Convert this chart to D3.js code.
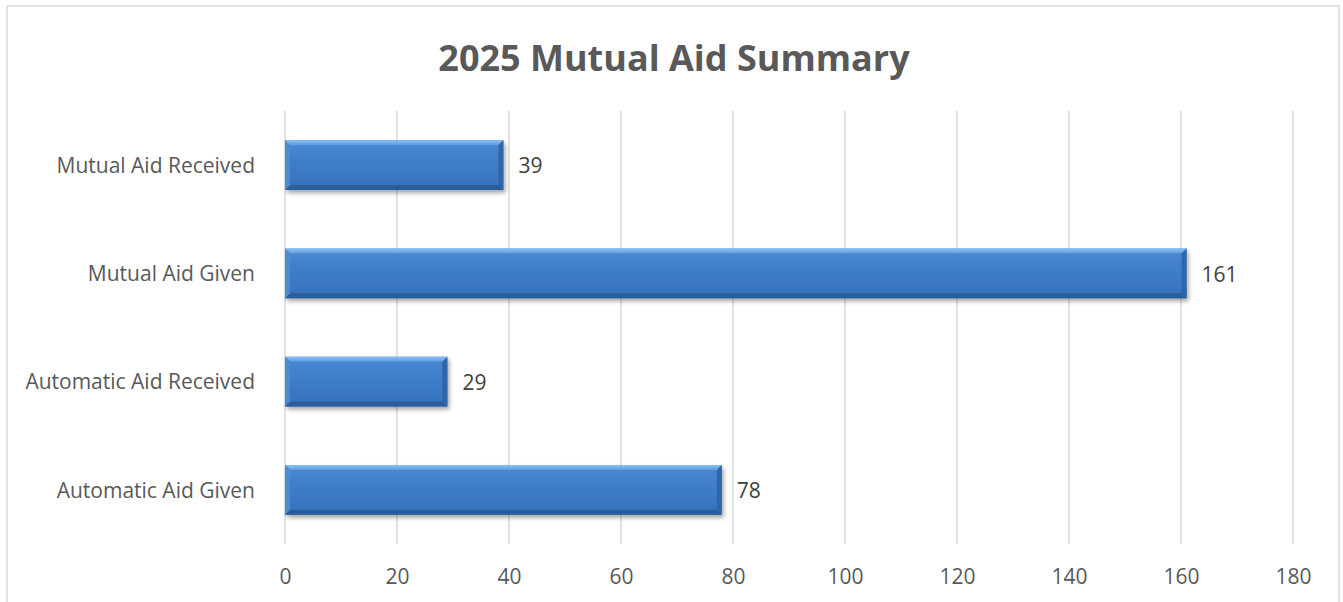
<!DOCTYPE html>
<html>
<head>
<meta charset="utf-8">
<script src="https://cdn.jsdelivr.net/npm/d3@7"></script>
<style>
  html, body { margin: 0; padding: 0; background: #fff; }
  svg { display: block; }
  text { font-family: "Open Sans", "Liberation Sans", sans-serif; }
</style>
</head>
<body>
<svg id="chart" width="1343" height="602"></svg>
<script>
// Chart data
const title = "2025 Mutual Aid Summary";
const categories = ["Mutual Aid Received", "Mutual Aid Given", "Automatic Aid Received", "Automatic Aid Given"];
const values = [39, 161, 29, 78];
const tickValues = [0, 20, 40, 60, 80, 100, 120, 140, 160, 180];

const margin = { left: 285, top: 111 };
const svg = d3.select("#chart");
const defs = svg.append("defs");

// Bar fill: vertical gradient for the bevelled look
const grad = defs.append("linearGradient").attr("id", "barFill")
  .attr("x1", 0).attr("y1", 0).attr("x2", 0).attr("y2", 1);
grad.append("stop").attr("offset", "0%").attr("stop-color", "#4a89d4");
grad.append("stop").attr("offset", "50%").attr("stop-color", "#3e7cc8");
grad.append("stop").attr("offset", "100%").attr("stop-color", "#3671bb");

const topGrad = defs.append("linearGradient").attr("id", "topBevel")
  .attr("x1", 0).attr("y1", 0).attr("x2", 0).attr("y2", 1);
topGrad.append("stop").attr("offset", "0%").attr("stop-color", "#8cc0f0");
topGrad.append("stop").attr("offset", "100%").attr("stop-color", "#5d9be0");

const shadow = defs.append("filter").attr("id", "shadow")
  .attr("x", "-5%").attr("y", "-20%").attr("width", "115%").attr("height", "160%");
shadow.append("feDropShadow").attr("dx", 2).attr("dy", 3).attr("stdDeviation", 2.2)
  .attr("flood-color", "#000").attr("flood-opacity", 0.35);

// Outer border
svg.append("rect").attr("x", 7).attr("y", 6).attr("width", 1332).attr("height", 620)
  .attr("fill", "none").attr("stroke", "#d9d9d9").attr("stroke-width", 1.5);

const x = d3.scaleLinear().domain([0, 180]).range([margin.left, 1293]);
const y = d3.scaleBand().domain(categories).range([margin.top, 544]).paddingInner(0.54).paddingOuter(0.27);

// Title
svg.append("text").attr("x", 674).attr("y", 71).attr("text-anchor", "middle")
  .attr("font-size", 36).attr("font-weight", 700).attr("fill", "#595959").text(title);

// Vertical gridlines
svg.append("g").selectAll("line").data(tickValues).join("line")
  .attr("x1", d => x(d)).attr("x2", d => x(d))
  .attr("y1", margin.top).attr("y2", 544)
  .attr("stroke", "#d9d9d9").attr("stroke-width", 1.5);

// Value axis labels
const xAxis = d3.axisBottom(x).tickValues(tickValues).tickSize(0).tickPadding(0);
const gx = svg.append("g").attr("transform", "translate(0,569)").call(xAxis);
gx.select(".domain").remove();
gx.selectAll("text").attr("font-size", 21).attr("fill", "#595959")
  .attr("font-family", "'Open Sans', sans-serif");

// Category labels
const yAxis = d3.axisLeft(y).tickSize(0).tickPadding(30);
const gy = svg.append("g").attr("transform", `translate(${margin.left},1)`).call(yAxis);
gy.select(".domain").remove();
gy.selectAll("text").attr("font-size", 21).attr("fill", "#595959")
  .attr("font-family", "'Open Sans', sans-serif");

// Bars with bevelled edges
const bw = 5;
const bars = svg.append("g").selectAll("g").data(categories.map((c, i) => ({ c, v: values[i] }))).join("g");
bars.each(function(d) {
  const g = d3.select(this);
  const x0 = x(0), x1 = x(d.v), y0 = y(d.c), y1 = y0 + y.bandwidth();
  g.append("rect").attr("x", x0).attr("y", y0).attr("width", x1 - x0).attr("height", y1 - y0)
    .attr("fill", "url(#barFill)").attr("filter", "url(#shadow)");
  // top bevel
  g.append("path").attr("d", `M${x0},${y0}L${x1},${y0}L${x1 - bw},${y0 + bw}L${x0 + bw},${y0 + bw}Z`)
    .attr("fill", "url(#topBevel)");
  // bottom bevel
  g.append("path").attr("d", `M${x0},${y1}L${x1},${y1}L${x1 - bw},${y1 - bw}L${x0 + bw},${y1 - bw}Z`)
    .attr("fill", "#2b5d9c");
  // left bevel
  g.append("path").attr("d", `M${x0},${y0}L${x0 + bw},${y0 + bw}L${x0 + bw},${y1 - bw}L${x0},${y1}Z`)
    .attr("fill", "#4f8ad0");
  // right bevel
  g.append("path").attr("d", `M${x1},${y0}L${x1 - bw},${y0 + bw}L${x1 - bw},${y1 - bw}L${x1},${y1}Z`)
    .attr("fill", "#2f66ab");
  // value label
  g.append("text").attr("x", x1 + 15).attr("y", (y0 + y1) / 2 + 1).attr("dy", "0.35em")
    .attr("font-size", 21).attr("fill", "#404040").text(d.v);
});
</script>
</body>
</html>
